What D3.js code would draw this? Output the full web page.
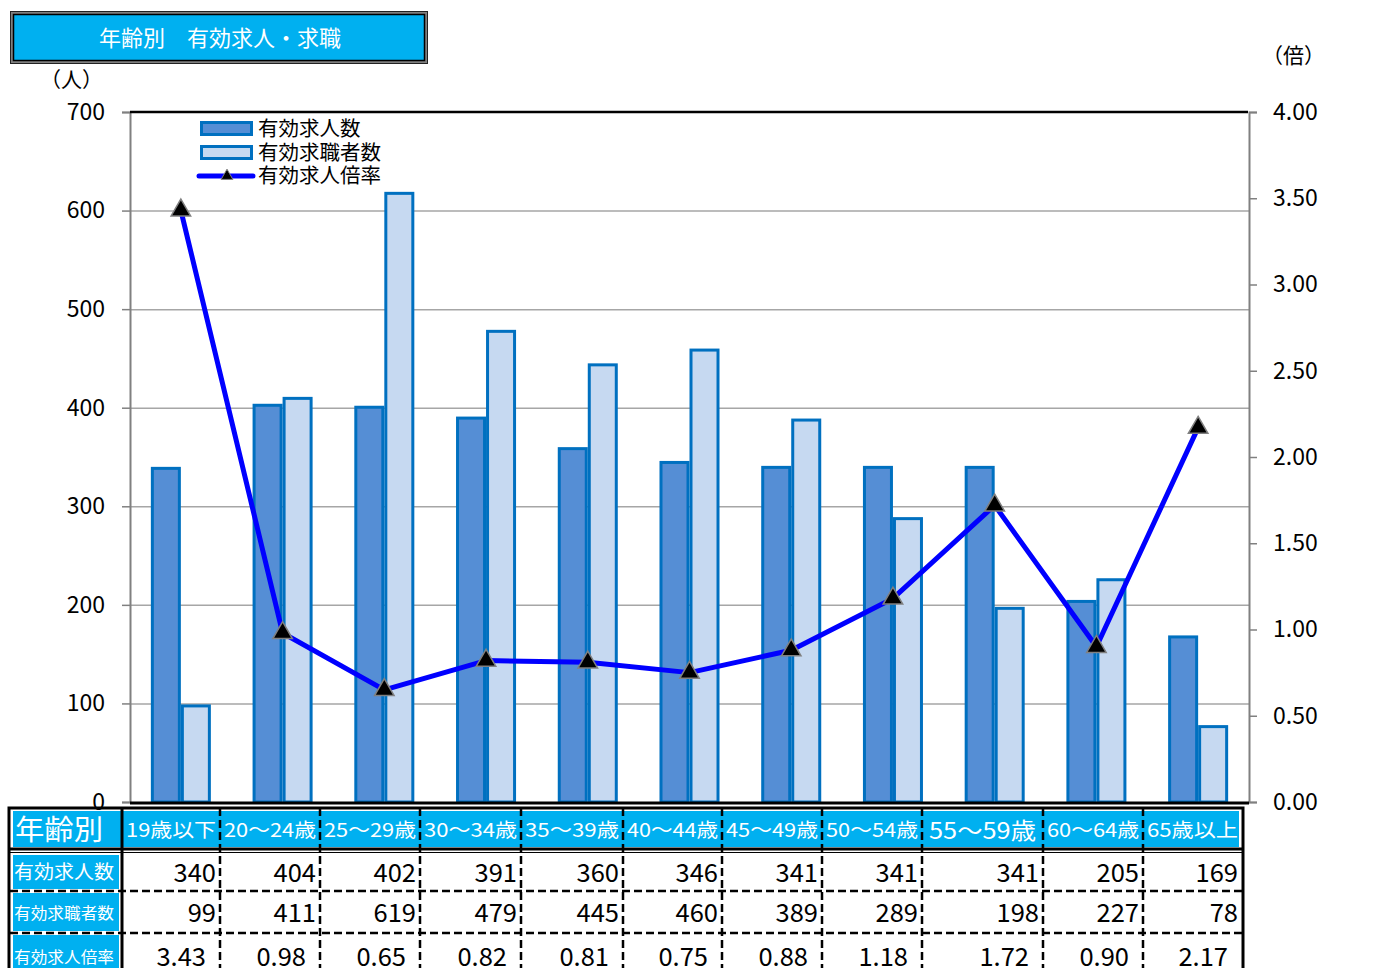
<!DOCTYPE html>
<html><head><meta charset="utf-8">
<script src="https://cdn.jsdelivr.net/npm/d3@7/dist/d3.min.js"></script>
<style>
html,body{margin:0;padding:0;background:#fff;}
svg{display:block;font-family:"Noto Sans CJK JP","Noto Sans",sans-serif;}
</style></head>
<body>
<svg id="c" width="1399" height="968"></svg>
<script>
// ---- data ----
const categories = ["19歳以下","20～24歳","25～29歳","30～34歳","35～39歳","40～44歳","45～49歳","50～54歳","55～59歳","60～64歳","65歳以上"];
const jobOpenings = [340,404,402,391,360,346,341,341,341,205,169];
const jobSeekers  = [99,411,619,479,445,460,389,289,198,227,78];
const ratio       = [3.43,0.98,0.65,0.82,0.81,0.75,0.88,1.18,1.72,0.90,2.17];
const leftTicks   = [0,100,200,300,400,500,600,700];
const rightTicks  = [0,0.5,1,1.5,2,2.5,3,3.5,4];
const seriesNames = ["有効求人数","有効求職者数","有効求人倍率"];
const titleText   = "年齢別　有効求人・求職";
const tableHead   = "年齢別";

// ---- layout ----
const svg = d3.select("#c");
const X0 = 130, X1 = 1249, Y0 = 802, Y1 = 112;
const CYAN = "#00B0F0", DARK = "#558ED5", LIGHT = "#C6D9F1", EDGE = "#0070C0";

const x = d3.scaleBand().domain(categories).range([X0, X1]).padding(0);
const yL = d3.scaleLinear().domain([0,700]).range([Y0, Y1]);
const yR = d3.scaleLinear().domain([0,4]).range([Y0, Y1]);
const bw = x.bandwidth() * 0.295;

// title box
const tb = svg.append("g");
tb.append("rect").attr("x",10.5).attr("y",11.5).attr("width",417).attr("height",52)
  .attr("fill","#7f7f7f").attr("stroke","#222").attr("stroke-width",1);
tb.append("rect").attr("x",13.5).attr("y",14.5).attr("width",411).attr("height",46)
  .attr("fill",CYAN).attr("stroke","#000").attr("stroke-width",1.5);
tb.append("text").attr("x",220).attr("y",46).attr("text-anchor","middle")
  .attr("fill","#fff").attr("font-size",22).text(titleText);

// unit labels
svg.append("text").attr("x",40).attr("y",87).attr("font-size",21).text("（人）");
svg.append("text").attr("x",1262).attr("y",63).attr("font-size",21).text("（倍）");

// gridlines
svg.append("g").selectAll("line").data(leftTicks.filter(d=>d>0 && d<700)).join("line")
  .attr("x1",X0).attr("x2",X1).attr("y1",d=>yL(d)+0.5).attr("y2",d=>yL(d)+0.5)
  .attr("stroke","#a6a6a6").attr("stroke-width",1.5);

// axes
const axL = svg.append("g").attr("transform",`translate(${X0},0)`)
  .call(d3.axisLeft(yL).tickValues(leftTicks).tickSize(8).tickPadding(17).tickFormat(d3.format("d")));
const axR = svg.append("g").attr("transform",`translate(${X1},0)`)
  .call(d3.axisRight(yR).tickValues(rightTicks).tickSize(8).tickPadding(16).tickFormat(d3.format(".2f")));
[axL, axR].forEach(a=>{
  a.select(".domain").attr("stroke","#808080").attr("stroke-width",2);
  a.selectAll(".tick line").attr("stroke","#808080").attr("stroke-width",1.5);
  a.selectAll(".tick text").attr("font-size",23).attr("fill","#000")
   .attr("font-family","'Noto Sans CJK JP',sans-serif");
});

// plot top border
svg.append("line").attr("x1",X0).attr("x2",X1-1).attr("y1",Y1).attr("y2",Y1).attr("stroke","#000").attr("stroke-width",2.5);

// bars
const gb = svg.append("g");
gb.selectAll("rect.a").data(categories).join("rect").attr("class","a")
  .attr("x",d=>x(d)+x.bandwidth()/2-bw+1.5).attr("width",bw-3)
  .attr("y",(d,i)=>yL(jobOpenings[i])+1.5).attr("height",(d,i)=>Y0-yL(jobOpenings[i])-1.5)
  .attr("fill",DARK).attr("stroke",EDGE).attr("stroke-width",3);
gb.selectAll("rect.b").data(categories).join("rect").attr("class","b")
  .attr("x",d=>x(d)+x.bandwidth()/2+1.5).attr("width",bw-3)
  .attr("y",(d,i)=>yL(jobSeekers[i])+1.5).attr("height",(d,i)=>Y0-yL(jobSeekers[i])-1.5)
  .attr("fill",LIGHT).attr("stroke",EDGE).attr("stroke-width",3);

svg.append("line").attr("x1",X0).attr("x2",X1).attr("y1",Y0+1).attr("y2",Y0+1).attr("stroke","#000").attr("stroke-width",3);

// ratio line
const cx = d=>x(d)+x.bandwidth()/2;
svg.append("path").datum(categories)
  .attr("d", d3.line().x(d=>cx(d)).y((d,i)=>yR(ratio[i])))
  .attr("fill","none").attr("stroke","#0000FF").attr("stroke-width",5).attr("stroke-linejoin","round");
const tri = d3.symbol().type(d3.symbolTriangle).size(165);
svg.append("g").selectAll("path").data(categories).join("path")
  .attr("d",tri).attr("transform",(d,i)=>`translate(${cx(d)},${yR(ratio[i])})`)
  .attr("fill","#000").attr("stroke","#808080").attr("stroke-width",1.5);

// legend
const lg = svg.append("g");
lg.append("rect").attr("x",201.5).attr("y",122.5).attr("width",50).attr("height",12)
  .attr("fill",DARK).attr("stroke",EDGE).attr("stroke-width",3);
lg.append("rect").attr("x",201.5).attr("y",146.5).attr("width",50).attr("height",12)
  .attr("fill",LIGHT).attr("stroke",EDGE).attr("stroke-width",3);
lg.append("line").attr("x1",199).attr("x2",253).attr("y1",176).attr("y2",176)
  .attr("stroke","#0000FF").attr("stroke-width",5).attr("stroke-linecap","round");
lg.append("path").attr("d",d3.symbol().type(d3.symbolTriangle).size(60)).attr("transform","translate(227,176)")
  .attr("fill","#000").attr("stroke","#808080").attr("stroke-width",1);
lg.selectAll("text").data(seriesNames).join("text")
  .attr("x",258).attr("y",(d,i)=>136+i*23.5).attr("font-size",20.5).text(d=>d);

// ---- table ----
const colWidths = [112,98,100,100,101,102,99,100,100,121,100,99];
const colX = [10]; colWidths.forEach(w=>colX.push(colX[colX.length-1]+w));
const rowY = [808,850,891,933,980];
const tbl = svg.append("g");
const rowsData = [
  {label:seriesNames[0], vals:jobOpenings.map(v=>String(v)), fs:19, pad:4},
  {label:seriesNames[1], vals:jobSeekers.map(v=>String(v)), fs:16, pad:4},
  {label:seriesNames[2], vals:ratio.map(v=>v.toFixed(2)), fs:16, pad:14}
];
// header row
tbl.append("rect").attr("x",colX[0]+3).attr("y",rowY[0]+3).attr("width",colX[12]-colX[0]-6).attr("height",rowY[1]-rowY[0]-6).attr("fill",CYAN);
tbl.append("text").attr("x",colX[0]+5).attr("y",rowY[0]+32).attr("font-size",28).attr("fill","#fff")
  .attr("textLength",88).attr("lengthAdjust","spacingAndGlyphs").text(tableHead);
categories.forEach((c,i)=>{
  const big = c==="55～59歳";
  const w = colX[i+2]-colX[i+1];
  tbl.append("text").attr("x",(colX[i+1]+colX[i+2])/2).attr("y",rowY[0]+(big?31:29))
    .attr("text-anchor","middle").attr("font-size",big?23:19).attr("fill","#fff")
    .attr("textLength", big? w-14 : w-8).attr("lengthAdjust","spacingAndGlyphs").text(c);
});
// data rows
rowsData.forEach((r,ri)=>{
  const ya = ri===0 ? rowY[1]+3 : rowY[ri+1];
  const yb = rowY[ri+2];
  tbl.append("rect").attr("x",colX[0]+3).attr("y",ya+2).attr("width",colX[1]-colX[0]-6).attr("height",yb-ya-4).attr("fill",CYAN);
  tbl.append("text").attr("x",colX[0]+4).attr("y",(ya+yb)/2+6.5).attr("font-size",r.fs).attr("fill","#fff")
    .attr("textLength",100).attr("lengthAdjust","spacingAndGlyphs").text(r.label);
  r.vals.forEach((v,ci)=>{
    tbl.append("text").attr("x",colX[ci+2]-r.pad).attr("y",(ya+yb)/2+9.5).attr("text-anchor","end")
      .attr("font-size",25.5).attr("fill","#000").text(v);
  });
});
// grid lines of table
const dash = "8,4";
for(let ci=2; ci<12; ci++){
  tbl.append("line").attr("x1",colX[ci]).attr("x2",colX[ci]).attr("y1",rowY[0]).attr("y2",968)
    .attr("stroke","#000").attr("stroke-width",2.5).attr("stroke-dasharray",dash);
}
[rowY[2], rowY[3]].forEach(yy=>{
  tbl.append("line").attr("x1",colX[0]).attr("x2",colX[12]).attr("y1",yy).attr("y2",yy)
    .attr("stroke","#000").attr("stroke-width",2.5).attr("stroke-dasharray",dash);
});
tbl.append("line").attr("x1",colX[1]).attr("x2",colX[1]).attr("y1",rowY[0]).attr("y2",968).attr("stroke","#000").attr("stroke-width",3);
tbl.append("line").attr("x1",colX[0]).attr("x2",colX[12]).attr("y1",rowY[1]-1).attr("y2",rowY[1]-1).attr("stroke","#000").attr("stroke-width",3);
tbl.append("line").attr("x1",colX[0]).attr("x2",colX[12]).attr("y1",rowY[1]+2.5).attr("y2",rowY[1]+2.5).attr("stroke","#000").attr("stroke-width",1.2);
tbl.append("rect").attr("x",colX[0]-1).attr("y",rowY[0]).attr("width",colX[12]-colX[0]+2).attr("height",200)
  .attr("fill","none").attr("stroke","#000").attr("stroke-width",3);
</script>
</body></html>
